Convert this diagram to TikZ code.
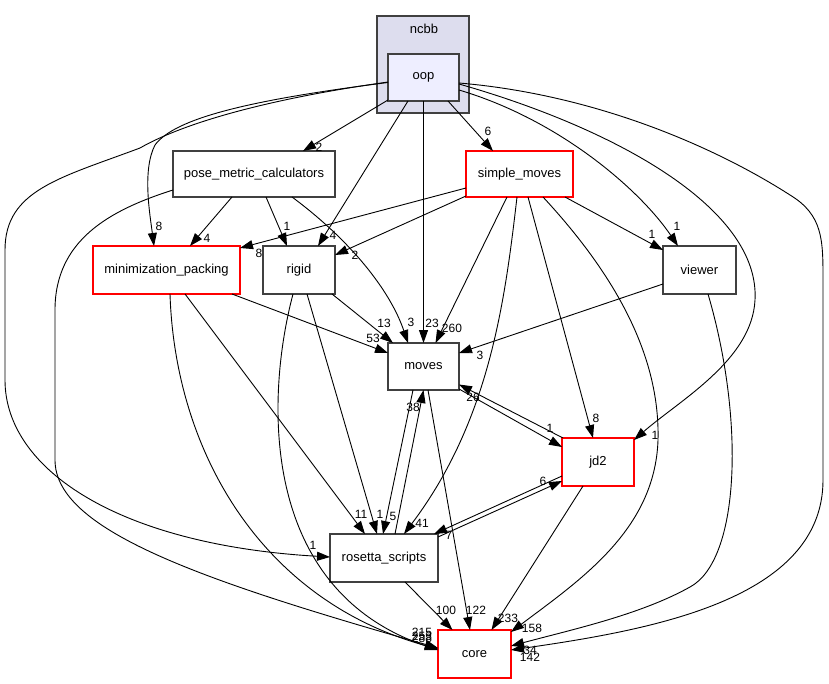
\documentclass[tikz,border=0pt]{standalone}
\usepackage{fontspec}
\setmainfont{Liberation Sans}
\usetikzlibrary{calc,arrows.meta}

\definecolor{clusterfill}{HTML}{DDDDEE}
\definecolor{focusfill}{HTML}{EEEEFF}
\definecolor{boxline}{HTML}{404040}

\begin{document}
\begin{tikzpicture}[x=1pt,y=-1pt,
  dir/.style={draw=boxline,line width=1.2pt,fill=white,inner sep=0pt,outer sep=0pt,
    minimum height=47pt,font=\fontsize{13}{15}\selectfont},
  reddir/.style={dir,draw=red},
  dep/.style={line width=0.9pt,-{Triangle[length=13pt,width=9pt]}},
  lbl/.style={inner sep=0pt,font=\fontsize{12}{14}\selectfont}]

  \useasboundingbox (0,0) rectangle (829,684);

  % the ncbb cluster
  \path[fill=clusterfill,draw=boxline,line width=1.2pt] (377,16) rectangle (469,113);
  \node (ncbb) at (424,29) [font=\fontsize{13}{15}\selectfont] {ncbb};

  % directories
  \node[dir,fill=focusfill,minimum width=71pt] (oop) at (423.5,77.5) {oop};
  \node[dir,minimum width=162pt,minimum height=46pt] (pmc) at (254,174) {pose\_metric\_calculators};
  \node[reddir,minimum width=107pt,minimum height=46pt] (sm) at (519.5,174) {simple\_moves};
  \node[reddir,minimum width=147pt,minimum height=48pt] (mp) at (166.5,270) {minimization\_packing};
  \node[dir,minimum width=72pt,minimum height=48pt] (rigid) at (299,270) {rigid};
  \node[dir,minimum width=73pt,minimum height=48pt] (viewer) at (699.5,270) {viewer};
  \node[dir,minimum width=71pt] (moves) at (423.5,366.5) {moves};
  \node[reddir,minimum width=72pt,minimum height=48pt] (jd2) at (598,462) {jd2};
  \node[dir,minimum width=108pt,minimum height=48pt] (rs) at (384,558) {rosetta\_scripts};
  \node[reddir,minimum width=73pt,minimum height=48pt] (core) at (474.5,654) {core};

  % from oop
  \draw[dep] ($(oop.south west)+(0,-1)$) -- ($(pmc.north)+(49,0)$) node[lbl] (l1) at (319,147) {2};
  \draw[dep] ($(oop.south)+(24.5,0)$) -- ($(sm.north)+(-26.5,0)$) node[lbl] (l2) at (488,131) {6};
  \draw[dep] ($(oop.west)+(0,5)$) .. controls (250,100) and (175,118) .. (155,145)
    .. controls (142,170) and (150,215) .. ($(mp.north)+(-12.5,0)$) node[lbl] (l3) at (159,226) {8};
  \draw[dep] ($(oop.south)+(-15.5,0)$) -- ($(rigid.north)+(19,0)$) node[lbl] (l4) at (333,235) {4};
  \draw[dep] (oop) -- (moves) node[lbl] (l5) at (432,323) {23};
  \draw[dep] ($(oop.east)+(0,12.5)$) .. controls (560,120) and (640,190) .. ($(viewer.north)+(-21.5,0)$)
    node[lbl] (l6) at (677,226) {1};
  \draw[dep] ($(oop.east)+(0,6.5)$) .. controls (620,130) and (760,210) .. (755,300)
    .. controls (752,360) and (680,400) .. ($(jd2.north east)+(0,2)$) node[lbl] (l7) at (655,435) {1};
  \draw[dep] ($(oop.west)+(0,4.5)$) .. controls (260,100) and (180,125) .. (140,148)
    .. controls (60,178) and (5,190) .. (5,250) -- (5,380)
    .. controls (5,470) and (120,545) .. ($(rs.west)+(0,-1)$) node[lbl] (l8) at (313,545) {1};
  \draw[dep] ($(oop.east)+(0,5.5)$) .. controls (600,95) and (720,150) .. (790,195)
    .. controls (823,215) and (823,240) .. (823,280) -- (823,480)
    .. controls (823,600) and (650,630) .. ($(core.east)+(0,-4)$) node[lbl] (l9) at (530,657) {142};

  % from pose_metric_calculators
  \draw[dep] ($(pmc.south)+(-22,0)$) -- ($(mp.north)+(23.5,0)$) node[lbl] (l10) at (207,238) {4};
  \draw[dep] ($(pmc.south)+(12,0)$) -- ($(rigid.north)+(-12,0)$) node[lbl] (l11) at (287,226) {1};
  \draw[dep] ($(pmc.south)+(38,0)$) .. controls (350,240) and (390,290) .. ($(moves.north)+(-15.5,0)$)
    node[lbl] (l12) at (411,322) {3};
  \draw[dep] ($(pmc.west)+(0,16)$) .. controls (110,210) and (55,240) .. (55,310) -- (55,460)
    .. controls (55,530) and (200,580) .. ($(core.west)+(0,-6)$) node[lbl] (l13) at (422,632) {215};

  % from simple_moves
  \draw[dep] ($(sm.west)+(0,14)$) -- ($(mp.east)+(0,-22)$) node[lbl] (l14) at (259,253) {8};
  \draw[dep] ($(sm.south west)+(0,-1)$) -- ($(rigid.east)+(0,-15)$) node[lbl] (l15) at (355,255) {2};
  \draw[dep] ($(sm.south)+(45.5,0)$) -- ($(viewer.west)+(0,-20)$) node[lbl] (l16) at (652,234) {1};
  \draw[dep] ($(sm.south)+(-12.5,0)$) -- ($(moves.north)+(12,0)$) node[lbl] (l17) at (452,328) {260};
  \draw[dep] ($(sm.south)+(-2.5,0)$) .. controls (505,300) and (490,420) .. ($(rs.north)+(20,0)$)
    node[lbl] (l18) at (422,523) {41};
  \draw[dep] ($(sm.south)+(8.5,0)$) -- ($(jd2.north)+(-5,0)$) node[lbl] (l19) at (596,418) {8};
  \draw[dep] ($(sm.south)+(23.5,0)$) .. controls (620,280) and (660,360) .. (658,440)
    .. controls (655,530) and (580,580) .. ($(core.north east)+(0,2)$) node[lbl] (l20) at (532,628) {158};

  % from minimization_packing
  \draw[dep] ($(mp.south)+(3.5,0)$) .. controls (175,450) and (260,600) .. ($(core.west)+(0,-5)$)
    node[lbl] (l21) at (422,636) {253};
  \draw[dep] ($(mp.south)+(18.5,0)$) -- ($(rs.north)+(-19,0)$) node[lbl] (l22) at (361,514) {11};
  \draw[dep] ($(mp.south east)+(-8,0)$) -- ($(moves.west)+(0,-13.5)$) node[lbl] (l23) at (373,338) {53};

  % from rigid
  \draw[dep] ($(rigid.south east)+(-3,0)$) -- ($(moves.north)+(-30.5,0)$) node[lbl] (l24) at (384,323) {13};
  \draw[dep] ($(rigid.south)+(-6,0)$) .. controls (265,400) and (260,590) .. ($(core.west)+(0,-4)$)
    node[lbl] (l25) at (422,638) {288};
  \draw[dep] ($(rigid.south)+(8,0)$) -- ($(rs.north)+(-7,0)$) node[lbl] (l26) at (380,514) {1};

  % from viewer
  \draw[dep] ($(viewer.west)+(0,14)$) -- ($(moves.east)+(0,-13.5)$) node[lbl] (l27) at (480,355) {3};
  \draw[dep] ($(viewer.south)+(8.5,0)$) .. controls (745,420) and (740,560) .. (690,587)
    .. controls (640,615) and (570,630) .. ($(core.east)+(0,-8)$) node[lbl] (l28) at (530,650) {34};

  % moves, jd2, rosetta_scripts
  \draw[dep] ($(moves.south east)+(0,-1)$) -- ($(jd2.west)+(0,-15)$) node[lbl] (l29) at (550,428) {1};
  \draw[dep] ($(jd2.north west)+(1,0)$) -- ($(moves.east)+(0,18)$) node[lbl] (l30) at (473,397) {26};
  \draw[dep] ($(moves.south)+(-10.5,0)$) -- ($(rs.north)+(-1,0)$) node[lbl] (l31) at (393,516) {5};
  \draw[dep] ($(rs.north)+(11,0)$) -- (moves.south) node[lbl] (l32) at (413,407) {38};
  \draw[dep] ($(moves.south)+(4.5,0)$) -- ($(core.north)+(-4.5,0)$) node[lbl] (l33) at (476,610) {122};
  \draw[dep] ($(jd2.south)+(-15,0)$) -- ($(core.north)+(17,0)$) node[lbl] (l34) at (508,618) {233};
  \draw[dep] ($(jd2.west)+(0,14)$) -- ($(rs.north east)+(-4,0)$) node[lbl] (l35) at (449,535) {7};
  \draw[dep] ($(rs.east)+(0,-21)$) -- ($(jd2.west)+(0,19)$) node[lbl] (l36) at (543,481) {6};
  \draw[dep] ($(rs.south)+(21,0)$) -- ($(core.north)+(-22,0)$) node[lbl] (l37) at (446,610) {100};
\end{tikzpicture}
\end{document}
